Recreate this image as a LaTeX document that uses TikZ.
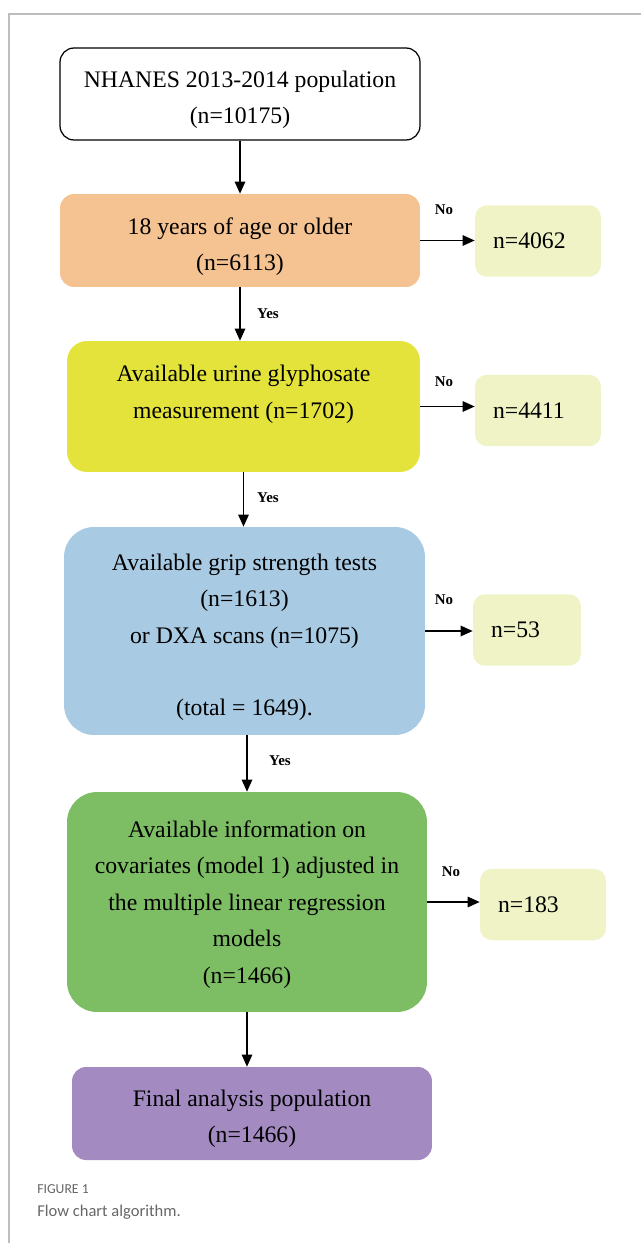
\documentclass[tikz,border=0pt]{standalone}
\usepackage{fontspec}
\setmainfont{Liberation Serif}
\newfontfamily\capfont{Carlito}
\usepackage{xcolor}
\usepackage{tikz}
\usetikzlibrary{arrows.meta,positioning}
\definecolor{frameg}{HTML}{BDBDBD}
\definecolor{ageorange}{HTML}{F5C291}
\definecolor{urineyellow}{HTML}{E3E33B}
\definecolor{gripblue}{HTML}{A9CAE3}
\definecolor{covgreen}{HTML}{7DBE64}
\definecolor{finalpurple}{HTML}{A38BC2}
\definecolor{exclgreen}{HTML}{EFF3C5}
\definecolor{capgray}{HTML}{666666}

\begin{document}
\begin{tikzpicture}[x=0.02cm, y=-0.02cm,
  box/.style={rectangle, rounded corners=0.28cm, align=center, inner sep=0pt, text depth=0pt, font=\fontsize{13.5}{20.7}\selectfont},
  side/.style={rectangle, rounded corners=0.24cm, fill=exclgreen, align=left, text width=#1, inner xsep=0.36cm, minimum height=1.43cm, font=\fontsize{13.5}{20.7}\selectfont},
  lbl/.style={inner sep=0pt, font=\fontsize{8.5}{10}\selectfont\bfseries},
  arr/.style={-{Triangle[length=0.24cm, width=0.21cm]}, line width=0.7pt}
]
\useasboundingbox (0,0) rectangle (641,1243);
\draw[frameg, line width=0.85pt] (641,14) -- (9,14) -- (9,1243);

% main column
\node[box, draw, line width=0.7pt, fill=white, minimum width=7.2cm, minimum height=1.84cm, text height=1.2cm] (nhanes) at (240,94) {NHANES 2013-2014 population\\(n=10175)};
\node[box, fill=ageorange, minimum width=7.2cm, minimum height=1.86cm, text height=1.2cm] (age) at (240,240.5) {18 years of age or older\\(n=6113)};
\node[box, fill=urineyellow, rounded corners=0.4cm, minimum width=7.06cm, minimum height=2.62cm, text height=1.92cm] (urine) at (243.5,406.5) {Available urine glyphosate\\measurement (n=1702)\\\mbox{}};
\node[box, fill=gripblue, rounded corners=0.6cm, minimum width=7.22cm, minimum height=4.16cm, text height=3.4cm] (grip) at (244.5,631) {Available grip strength tests\\(n=1613)\\or DXA scans (n=1075)\\\mbox{}\\(total = 1649).};
\node[box, fill=covgreen, rounded corners=0.6cm, minimum width=7.2cm, minimum height=4.4cm] (cov) at (247,902) {Available information on\\covariates (model 1) adjusted in\\the multiple linear regression\\models\\(n=1466)};
\node[box, fill=finalpurple, minimum width=7.2cm, minimum height=1.86cm, text height=1.16cm] (final) at (252,1113.5) {Final analysis population\\(n=1466)};

% excluded
\node[side=1.8cm] (ex1) at (538,241) {n=4062};
\node[side=1.8cm] (ex2) at (538,410.5) {n=4411};
\node[side=1.44cm] (ex3) at (527,630) {n=53};
\node[side=1.8cm] (ex4) at (543,904.5) {n=183};

\draw[arr] (nhanes) -- (age);
\draw[arr] (age.south) -- (age.south |- urine.north);
\draw[arr] (urine.south) -- (urine.south |- grip.north);
\draw[arr] (cov.north |- grip.south) -- (cov.north);
\draw[arr] (cov.south) -- (cov.south |- final.north);

\draw[arr] (age.east) -- (age.east -| ex1.west);
\draw[arr] (urine.east) -- (urine.east -| ex2.west);
\draw[arr] (grip.east) -- (grip.east -| ex3.west);
\draw[arr] (cov.east) -- (cov.east -| ex4.west);

\node[lbl] (yes1) at (268,314) {Yes};
\node[lbl] (yes2) at (268,498) {Yes};
\node[lbl] (yes3) at (280,761) {Yes};
\node[lbl] (no1) at (444,210) {No};
\node[lbl] (no2) at (444,382) {No};
\node[lbl] (no3) at (444,600) {No};
\node[lbl] (no4) at (451,872) {No};

% caption
\node[anchor=west, inner sep=0pt, text=capgray, font=\capfont\fontsize{7.8}{9}\selectfont] (fignum) at (37,1189) {FIGURE 1};
\node[anchor=west, inner sep=0pt, text=capgray, font=\capfont\fontsize{9.4}{11}\selectfont] (figcap) at (37,1212) {Flow chart algorithm.};
\end{tikzpicture}
\end{document}
